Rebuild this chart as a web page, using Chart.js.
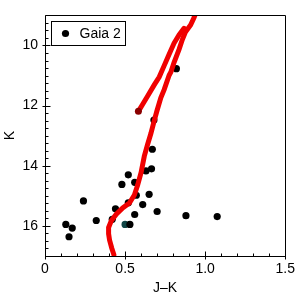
<!DOCTYPE html>
<html>
<head>
<meta charset="utf-8">
<script src="https://cdn.jsdelivr.net/npm/chart.js@4"></script>
<style>
  body { margin: 0; background: #fff; }
  #wrap { width: 300px; height: 300px; }
</style>
</head>
<body>
<div id="wrap"><canvas id="cmd" width="300" height="300"></canvas></div>
<script>
// Gaia 2 stars (J-K colour, K magnitude)
const gaiaJK = [0.13, 0.17, 0.15, 0.24, 0.32, 0.44, 0.42, 0.48, 0.52, 0.53, 0.52, 0.56, 0.57, 0.56, 0.61, 0.63, 0.665, 0.65, 0.70, 0.67, 0.68, 0.82, 0.88, 1.075];
const gaiaK = [15.95, 16.07, 16.36, 15.17, 15.82, 15.43, 15.78, 14.62, 14.30, 15.95, 15.23, 14.55, 14.98, 15.62, 15.29, 14.17, 14.10, 14.95, 15.52, 13.45, 12.48, 10.77, 15.66, 15.69];
// odd one out (dark teal)
const otherJK = [0.50];
const otherK = [15.95];
// isochrone: main sequence -> giant branch
const isoJK = [0.430, 0.417, 0.403, 0.397, 0.397, 0.414, 0.445, 0.485, 0.527, 0.558, 0.578, 0.600, 0.620, 0.640, 0.661, 0.682, 0.699, 0.723, 0.744, 0.775, 0.786, 0.806, 0.837, 0.857, 0.878, 0.909, 0.930, 0.95];
const isoK = [16.96, 16.74, 16.47, 16.26, 16.05, 15.83, 15.61, 15.40, 15.24, 14.97, 14.65, 14.22, 13.68, 13.30, 12.93, 12.50, 12.17, 11.74, 11.47, 10.99, 10.88, 10.56, 10.13, 9.81, 9.54, 9.32, 9.08, 8.8];
// clump -> asymptotic giant branch
const agbJK = [0.583, 0.609, 0.640, 0.682, 0.713, 0.744, 0.775, 0.806, 0.837, 0.868];
const agbK = [12.19, 11.96, 11.69, 11.31, 11.05, 10.67, 10.29, 9.92, 9.65, 9.43];

const xTicks = [0, 0.5, 1.0, 1.5];
const yTicks = [10, 12, 14, 16];
const FONT = 'Liberation Sans';

function pts(xs, ys) { return xs.map((x, i) => ({ x: x, y: ys[i] })); }

// box round the plot, inward minor/major ticks and the boxed legend
const frame = {
  id: 'frame',
  afterDatasetsDraw(chart) {
    const ctx = chart.ctx, a = chart.chartArea;
    const xs = chart.scales.x, ys = chart.scales.y;
    const L = Math.round(a.left) + 0.5, T = Math.round(a.top) + 0.5;
    const R = Math.round(a.right) + 0.5, B = Math.round(a.bottom) + 0.5;
    ctx.save();
    ctx.strokeStyle = '#000';
    ctx.lineWidth = 1;
    ctx.beginPath();
    ctx.rect(L, T, R - L, B - T);
    for (let v = 0; v <= 15; v++) {
      const p = Math.round(xs.getPixelForValue(v / 10)) + 0.5;
      const major = v % 5 === 0;
      ctx.moveTo(p, B + (major ? 3 : 0));
      ctx.lineTo(p, B - (major ? 5 : 3));
    }
    for (let v = 36; v <= 68; v++) {
      const p = Math.round(ys.getPixelForValue(v / 4)) + 0.5;
      const major = v % 8 === 0;
      ctx.moveTo(L - (major ? 3 : 0), p);
      ctx.lineTo(L + (major ? 5 : 3), p);
    }
    ctx.stroke();

    // legend
    const ds = chart.data.datasets[2];
    const lx = L + 6, ly = T + 6;
    ctx.fillStyle = '#fff';
    ctx.fillRect(lx, ly, 74, 24);
    ctx.strokeRect(lx, ly, 74, 24);
    ctx.fillStyle = ds.backgroundColor;
    ctx.beginPath();
    ctx.arc(lx + 14, ly + 12, 3.6, 0, Math.PI * 2);
    ctx.fill();
    ctx.font = '14px "' + FONT + '"';
    ctx.textBaseline = 'middle';
    ctx.fillText(ds.label, lx + 28, ly + 13);
    ctx.restore();
  }
};

new Chart(document.getElementById('cmd'), {
  type: 'scatter',
  data: {
    datasets: [
      {
        label: 'isochrone',
        data: pts(isoJK, isoK),
        showLine: true,
        borderColor: '#f00000',
        borderWidth: 5,
        pointRadius: 0,
        borderCapStyle: 'round',
        order: 0
      },
      {
        label: 'agb',
        data: pts(agbJK, agbK),
        showLine: true,
        borderColor: '#f00000',
        borderWidth: 5,
        pointRadius: ctx => ctx.dataIndex === 0 ? 3.5 : 0,
        pointBackgroundColor: '#8a0000',
        pointBorderWidth: 0,
        borderCapStyle: 'round',
        order: 0
      },
      {
        label: 'Gaia 2',
        data: pts(gaiaJK, gaiaK),
        backgroundColor: '#000',
        borderColor: '#000',
        pointRadius: 3.6,
        pointBorderWidth: 0,
        order: 1
      },
      {
        label: 'other',
        data: pts(otherJK, otherK),
        backgroundColor: '#0f4444',
        borderColor: '#0f4444',
        pointRadius: 3.6,
        pointBorderWidth: 0,
        order: 1
      }
    ]
  },
  options: {
    responsive: false,
    animation: false,
    layout: { padding: { top: 9, right: 13, left: 0, bottom: 0 } },
    plugins: {
      tooltip: { enabled: false },
      legend: { display: false }
    },
    scales: {
      x: {
        type: 'linear',
        min: 0,
        max: 1.5,
        afterBuildTicks: s => { s.ticks = xTicks.map(v => ({ value: v })); },
        afterFit: s => { s.height = 44; },
        grid: { display: false, drawTicks: false },
        border: { display: false },
        ticks: {
          color: '#000',
          padding: 5,
          maxRotation: 0,
          font: { family: FONT, size: 14 },
          callback: v => v === 0 ? '0' : v.toFixed(1)
        },
        title: { display: true, text: 'J\u2013K', color: '#000', font: { family: FONT, size: 14 }, padding: { top: 0, bottom: 3 } }
      },
      y: {
        type: 'linear',
        reverse: true,
        min: 9,
        max: 17,
        afterBuildTicks: s => { s.ticks = yTicks.map(v => ({ value: v })); },
        afterFit: s => { s.width = 45; },
        grid: { display: false, drawTicks: false },
        border: { display: false },
        ticks: {
          color: '#000',
          padding: 7,
          font: { family: FONT, size: 14 }
        },
        title: { display: true, text: 'K', color: '#000', font: { family: FONT, size: 14 }, padding: { top: 2, bottom: 0 } }
      }
    }
  },
  plugins: [frame]
});
</script>
</body>
</html>
